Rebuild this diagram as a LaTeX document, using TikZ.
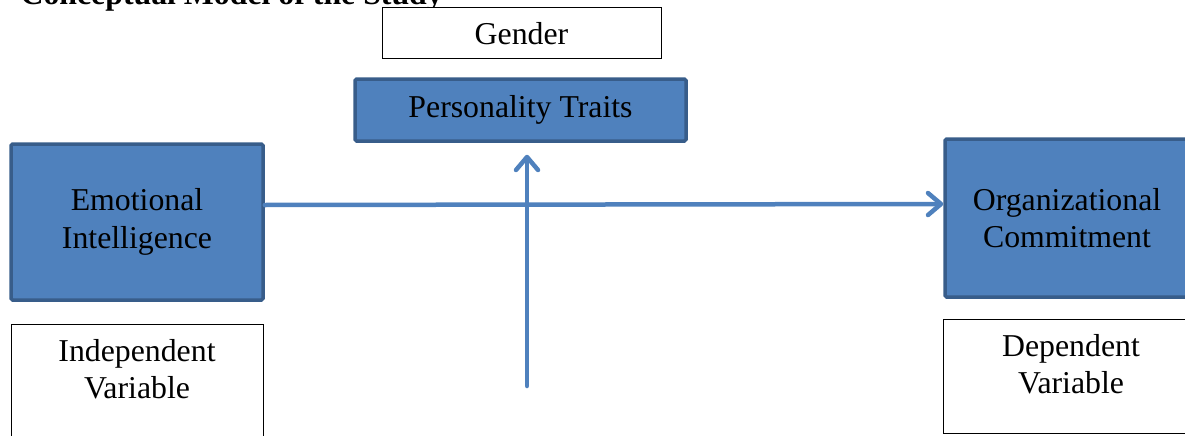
\documentclass[tikz,border=0pt]{standalone}
\usepackage{fontspec}
\setmainfont{Liberation Serif}
\usetikzlibrary{arrows.meta}
\definecolor{boxblue}{HTML}{4F81BD}
\definecolor{boxedge}{HTML}{385D8A}
\begin{document}
\begin{tikzpicture}[x=1pt,y=-1pt,
  every node/.style={font=\fontsize{31.8}{37.5}\selectfont, align=center},
  bluebox/.style={draw=boxedge, line width=3.5pt, fill=boxblue, rounded corners=1.5pt, inner sep=0pt},
  whitebox/.style={draw=black, line width=1pt, fill=white, inner sep=0pt},
  plain/.style={inner sep=0pt},
  arr/.style={draw=boxblue, line width=4.5pt, line cap=round,
    -{Straight Barb[length=13pt,width=22pt,line cap=round,line join=round]}}
]
\useasboundingbox (0,0) rectangle (1185,436);
\clip (0,0) rectangle (1185,436);

\node[plain, anchor=base east, font=\fontsize{31.8}{37.5}\selectfont\bfseries] (title) at (443,5) {Conceptual Model of the Study};

\node[whitebox, minimum width=279pt, minimum height=51pt] (gender) at (521.5,33.5) {Gender};
\node[bluebox, minimum width=331pt, minimum height=62pt] (pt) at (520.5,110) {Personality Traits};

\node[bluebox, minimum width=252pt, minimum height=156pt] (ei) at (137,222) {Emotional\\Intelligence};
\node[whitebox, minimum width=252pt, minimum height=140pt, anchor=north] (iv) at (137,324) {};
\node[plain] (ivtext) at (137,369) {Independent\\Variable};

\node[bluebox, minimum width=244pt, minimum height=158pt] (oc) at (1067,218) {Organizational\\Commitment};
\node[whitebox, minimum width=256pt, minimum height=114pt, anchor=north west] (dv) at (943,319) {};
\node[plain] (dvtext) at (1071,364) {Dependent\\Variable};

\coordinate (mod) at (527,386);

\draw[arr] ([yshift=17pt]ei.east) -- ([yshift=14pt]oc.west);
\draw[arr, shorten >=12pt] (mod) -- (mod |- pt.south);
\end{tikzpicture}
\end{document}
